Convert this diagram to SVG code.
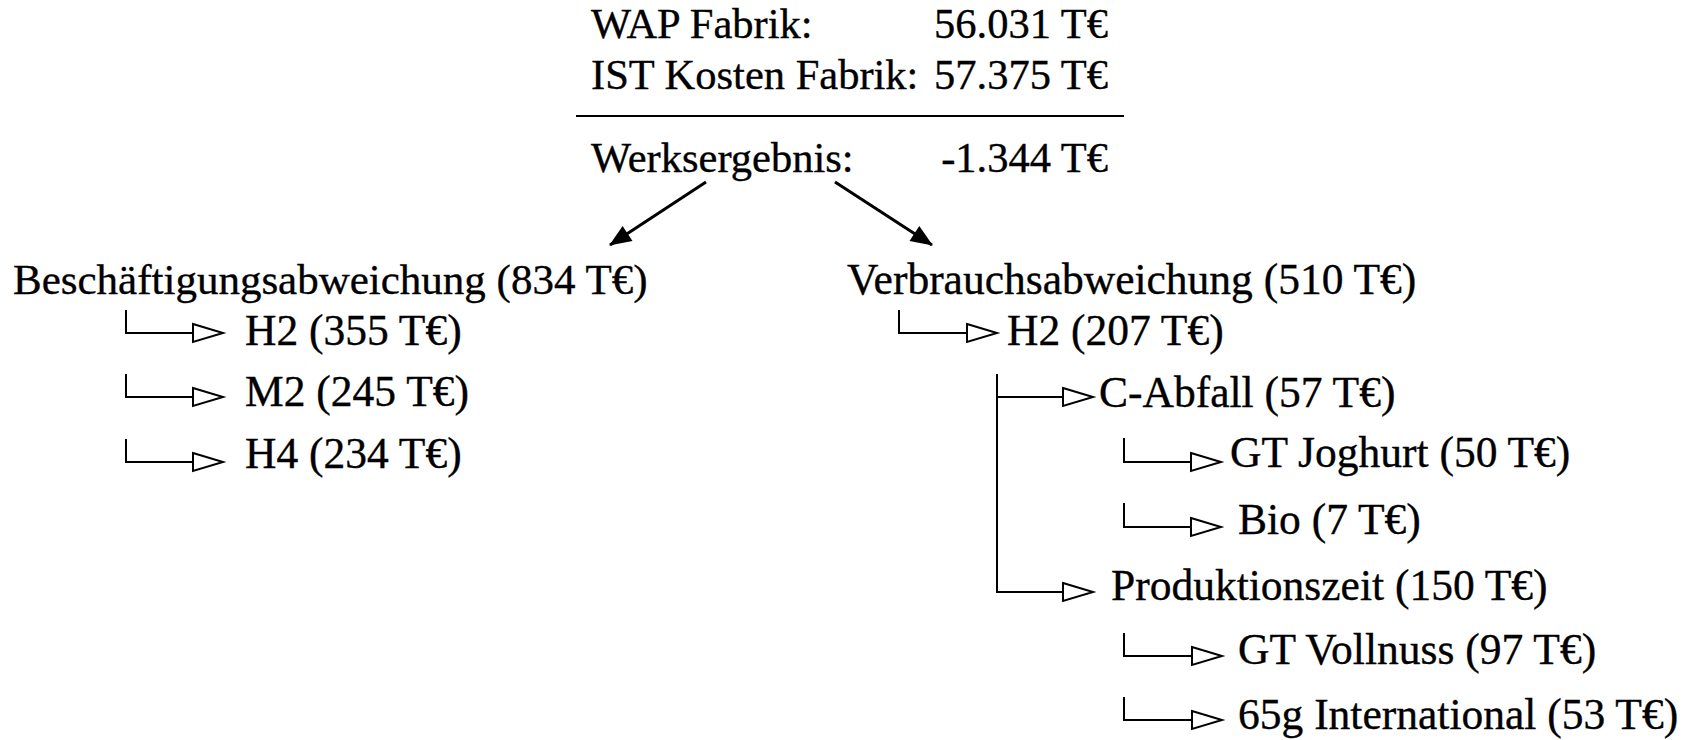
<svg xmlns="http://www.w3.org/2000/svg" width="1687" height="740" viewBox="0 0 1687 740">
<style>
text{font-family:'Liberation Serif','Times New Roman',serif;font-size:43.5px;fill:#000;stroke:#000;stroke-width:0.35}
.sum{font-size:42.5px}
.end{text-anchor:end}
.main{stroke:#000;stroke-width:3;fill:none}
.tree{stroke:#000;stroke-width:2;fill:none}
</style>
<defs>
<marker id="filled" markerUnits="userSpaceOnUse" viewBox="0 0 22 18" markerWidth="22" markerHeight="18" refX="21" refY="9" orient="auto" overflow="visible">
<path d="M0,0 L22,9 L0,18 Z" fill="#000"/>
</marker>
<marker id="open" markerUnits="userSpaceOnUse" viewBox="0 0 32 20" markerWidth="32" markerHeight="20" refX="31" refY="10" orient="auto" overflow="visible">
<path d="M1,1 L31,10 L1,19 Z" fill="#fff" stroke="#000" stroke-width="2"/>
</marker>
</defs>
<rect width="1687" height="740" fill="#fff"/>
<g id="summary">
<text class="sum" x="591" y="38">WAP Fabrik:</text>
<text class="sum end" x="1108" y="38">56.031 T€</text>
<text class="sum" x="591" y="89">IST Kosten Fabrik:</text>
<text class="sum end" x="1108" y="89">57.375 T€</text>
<line x1="576" y1="116" x2="1124" y2="116" stroke="#000" stroke-width="2"/>
<text class="sum" x="591" y="172">Werksergebnis:</text>
<text class="sum end" x="1108" y="172">-1.344 T€</text>
</g>
<g id="connectors">
<line class="main" x1="706" y1="182" x2="610" y2="245" marker-end="url(#filled)"/>
<line class="main" x1="835" y1="182" x2="932" y2="245" marker-end="url(#filled)"/>
<path class="tree" d="M126,310 V333 H223" marker-end="url(#open)"/>
<path class="tree" d="M126,374 V397 H223" marker-end="url(#open)"/>
<path class="tree" d="M126,439 V462 H223" marker-end="url(#open)"/>
<path class="tree" d="M899,310 V333 H997" marker-end="url(#open)"/>
<path class="tree" d="M997,374 V397 H1093" marker-end="url(#open)"/>
<path class="tree" d="M997,397 V592 H1093" marker-end="url(#open)"/>
<path class="tree" d="M1124,438 V462 H1221" marker-end="url(#open)"/>
<path class="tree" d="M1124,503 V527 H1221" marker-end="url(#open)"/>
<path class="tree" d="M1124,633 V656 H1222" marker-end="url(#open)"/>
<path class="tree" d="M1124,697 V720 H1222" marker-end="url(#open)"/>
</g>
<g id="beschaeftigung"><text x="13" y="294" style="font-size:43px">Beschäftigungsabweichung (834 T€)</text></g>
<g id="b-h2"><text x="245" y="345">H2 (355 T€)</text></g>
<g id="b-m2"><text x="245" y="406">M2 (245 T€)</text></g>
<g id="b-h4"><text x="245" y="468">H4 (234 T€)</text></g>
<g id="verbrauch"><text x="847" y="294">Verbrauchsabweichung (510 T€)</text></g>
<g id="v-h2"><text x="1007" y="345">H2 (207 T€)</text></g>
<g id="c-abfall"><text x="1099" y="407">C-Abfall (57 T€)</text></g>
<g id="gt-joghurt"><text x="1230" y="467">GT Joghurt (50 T€)</text></g>
<g id="bio"><text x="1238" y="534">Bio (7 T€)</text></g>
<g id="produktionszeit"><text x="1111" y="600">Produktionszeit (150 T€)</text></g>
<g id="gt-vollnuss"><text x="1238" y="664">GT Vollnuss (97 T€)</text></g>
<g id="international"><text x="1238" y="729">65g International (53 T€)</text></g>
</svg>
